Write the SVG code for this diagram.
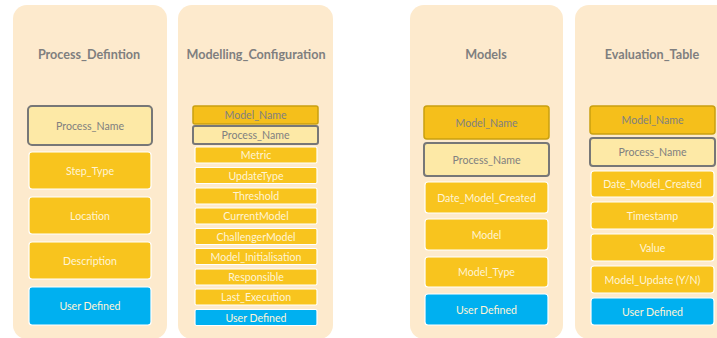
<svg xmlns="http://www.w3.org/2000/svg" width="717" height="338" viewBox="0 0 717 338">
<style>
.panel{fill:#FDEACD}
.title{font-family:Lato,"Liberation Sans",Arial,sans-serif;font-weight:bold;font-size:12.6px;fill:#7F7F7F;text-anchor:middle}
.key{fill:#F5BF1B;stroke:#C9A010;stroke-width:1.5}
.fk{fill:#FDE9A6;stroke:#777777;stroke-width:2}
.fld{fill:#F8C41E;stroke:#FFFFFF;stroke-width:1.2}
.ud{fill:#00B0F0;stroke:#FFFFFF;stroke-width:1.2}
.t{font-family:Lato,"Liberation Sans",Arial,sans-serif;font-size:10.6px;text-anchor:middle;dominant-baseline:central}
.tg{fill:#808080}
.tw{fill:#FFF4D6}
</style>
<rect width="717" height="338" fill="#FFFFFF"/>
<g id="process_defintion">
<rect class="panel" x="13" y="5" width="154" height="334" rx="14"/>
<text class="title" x="89" y="59">Process_Defintion</text>
<rect class="fk" x="28" y="106" width="124" height="39" rx="4"/>
<text class="t tg" x="90" y="125.5">Process_Name</text>
<rect class="fld" x="29" y="152" width="122" height="37" rx="3"/>
<text class="t tw" x="90" y="170.5">Step_Type</text>
<rect class="fld" x="29" y="197" width="122" height="37" rx="3"/>
<text class="t tw" x="90" y="215.5">Location</text>
<rect class="fld" x="29" y="242" width="122" height="37" rx="3"/>
<text class="t tw" x="90" y="260.5">Description</text>
<rect class="ud" x="29" y="287" width="122" height="38" rx="3"/>
<text class="t tw" x="90" y="306">User Defined</text>
</g>
<g id="modelling_configuration">
<rect class="panel" x="178" y="5" width="155" height="334" rx="14"/>
<text class="title" x="256" y="59">Modelling_Configuration</text>
<rect class="key" x="193" y="106" width="125" height="18" rx="2"/>
<text class="t tg" x="255.5" y="115">Model_Name</text>
<rect class="fk" x="193" y="126" width="125" height="18" rx="2"/>
<text class="t tg" x="255.5" y="135">Process_Name</text>
<rect class="fld" x="195" y="147" width="122" height="16" rx="1.5"/>
<text class="t tw" x="256" y="155">Metric</text>
<rect class="fld" x="195" y="167.5" width="122" height="16" rx="1.5"/>
<text class="t tw" x="256" y="175.5">UpdateType</text>
<rect class="fld" x="195" y="188" width="122" height="16" rx="1.5"/>
<text class="t tw" x="256" y="196">Threshold</text>
<rect class="fld" x="195" y="208" width="122" height="16" rx="1.5"/>
<text class="t tw" x="256" y="216">CurrentModel</text>
<rect class="fld" x="195" y="228.5" width="122" height="16" rx="1.5"/>
<text class="t tw" x="256" y="236.5">ChallengerModel</text>
<rect class="fld" x="195" y="248.5" width="122" height="16" rx="1.5"/>
<text class="t tw" x="256" y="256.5">Model_Initialisation</text>
<rect class="fld" x="195" y="269" width="122" height="16" rx="1.5"/>
<text class="t tw" x="256" y="277">Responsible</text>
<rect class="fld" x="195" y="289" width="122" height="16" rx="1.5"/>
<text class="t tw" x="256" y="297">Last_Execution</text>
<rect class="ud" x="195" y="309.5" width="122" height="16" rx="1.5"/>
<text class="t tw" x="256" y="317.5">User Defined</text>
</g>
<g id="models">
<rect class="panel" x="410" y="5" width="153" height="334" rx="14"/>
<text class="title" x="486" y="59">Models</text>
<rect class="key" x="424" y="106" width="125" height="33" rx="3"/>
<text class="t tg" x="486.5" y="122.5">Model_Name</text>
<rect class="fk" x="424" y="143" width="125" height="33" rx="3"/>
<text class="t tg" x="486.5" y="159.5">Process_Name</text>
<rect class="fld" x="425" y="182" width="123" height="31" rx="3"/>
<text class="t tw" x="486.5" y="197.5">Date_Model_Created</text>
<rect class="fld" x="425" y="219" width="123" height="31" rx="3"/>
<text class="t tw" x="486.5" y="234.5">Model</text>
<rect class="fld" x="425" y="257" width="123" height="30" rx="3"/>
<text class="t tw" x="486.5" y="272">Model_Type</text>
<rect class="ud" x="425" y="294" width="123" height="31" rx="3"/>
<text class="t tw" x="486.5" y="309.5">User Defined</text>
</g>
<g id="evaluation_table">
<rect class="panel" x="575" y="5" width="160" height="334" rx="14"/>
<text class="title" x="652" y="59">Evaluation_Table</text>
<rect class="key" x="590" y="106" width="125" height="28" rx="3"/>
<text class="t tg" x="652.5" y="120">Model_Name</text>
<rect class="fk" x="590" y="138" width="125" height="28" rx="3"/>
<text class="t tg" x="652.5" y="152">Process_Name</text>
<rect class="fld" x="591" y="171" width="123" height="26" rx="3"/>
<text class="t tw" x="652.5" y="184">Date_Model_Created</text>
<rect class="fld" x="591" y="202" width="123" height="27" rx="3"/>
<text class="t tw" x="652.5" y="215.5">Timestamp</text>
<rect class="fld" x="591" y="234" width="123" height="27" rx="3"/>
<text class="t tw" x="652.5" y="247.5">Value</text>
<rect class="fld" x="591" y="266" width="123" height="27" rx="3"/>
<text class="t tw" x="652.5" y="279.5">Model_Update (Y/N)</text>
<rect class="ud" x="591" y="298" width="123" height="27" rx="3"/>
<text class="t tw" x="652.5" y="311.5">User Defined</text>
</g>
<g id="connectors"/>
</svg>
